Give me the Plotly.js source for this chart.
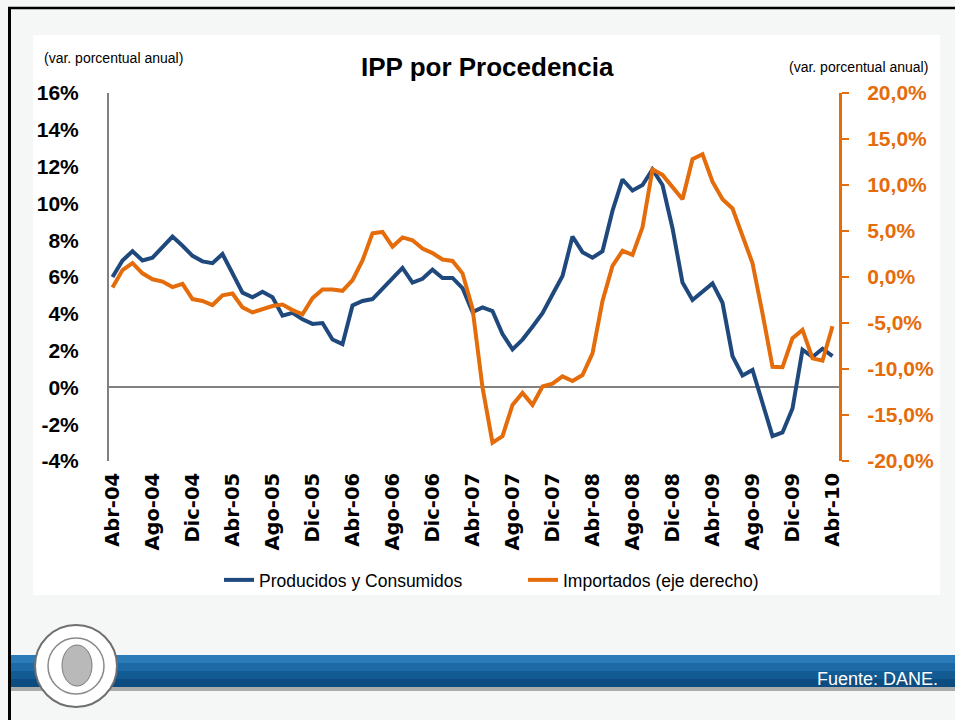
<!DOCTYPE html>
<html>
<head>
<meta charset="utf-8">
<script src="https://cdn.plot.ly/plotly-3.0.1.min.js"></script>
<style>html,body{margin:0;padding:0;background:#f5f6f6;}#chart{width:955px;height:720px;}</style>
</head>
<body>
<div id="chart"></div>
<script>
// ---- data ----
const months = ["Abr-04","May-04","Jun-04","Jul-04","Ago-04","Sep-04","Oct-04","Nov-04","Dic-04",
"Ene-05","Feb-05","Mar-05","Abr-05","May-05","Jun-05","Jul-05","Ago-05","Sep-05","Oct-05","Nov-05","Dic-05",
"Ene-06","Feb-06","Mar-06","Abr-06","May-06","Jun-06","Jul-06","Ago-06","Sep-06","Oct-06","Nov-06","Dic-06",
"Ene-07","Feb-07","Mar-07","Abr-07","May-07","Jun-07","Jul-07","Ago-07","Sep-07","Oct-07","Nov-07","Dic-07",
"Ene-08","Feb-08","Mar-08","Abr-08","May-08","Jun-08","Jul-08","Ago-08","Sep-08","Oct-08","Nov-08","Dic-08",
"Ene-09","Feb-09","Mar-09","Abr-09","May-09","Jun-09","Jul-09","Ago-09","Sep-09","Oct-09","Nov-09","Dic-09",
"Ene-10","Feb-10","Mar-10","Abr-10"];

const producidos = [6.0,6.9,7.4,6.9,7.05,7.6,8.2,7.7,7.15,
6.85,6.75,7.25,6.2,5.15,4.9,5.2,4.9,3.9,4.05,3.7,3.45,
3.5,2.6,2.35,4.45,4.7,4.8,5.35,5.9,6.5,5.7,5.9,6.4,
5.95,5.95,5.4,4.1,4.35,4.15,2.9,2.07,2.6,3.3,4.03,5.05,
6.05,8.2,7.35,7.05,7.4,9.6,11.3,10.7,11.0,11.85,11.0,8.65,
5.7,4.75,5.2,5.65,4.6,1.7,0.65,0.95,-0.85,-2.65,-2.45,-1.15,
2.05,1.65,2.1,1.7];

const importados = [-1.15,0.75,1.5,0.4,-0.25,-0.5,-1.1,-0.75,-2.4,
-2.6,-3.05,-2.0,-1.8,-3.3,-3.85,-3.5,-3.15,-3.0,-3.6,-4.05,-2.3,
-1.35,-1.35,-1.5,-0.35,1.8,4.75,4.9,3.3,4.3,4.0,3.1,2.6,
1.9,1.75,0.4,-3.4,-12.0,-18.0,-17.3,-13.9,-12.6,-13.9,-11.9,-11.6,
-10.8,-11.3,-10.65,-8.3,-2.6,1.2,2.85,2.4,5.4,11.7,11.1,9.8,
8.45,12.8,13.35,10.35,8.45,7.45,4.55,1.5,-3.95,-9.75,-9.8,-6.65,
-5.75,-8.85,-9.1,-5.35];

const xTicks = ["Abr-04","Ago-04","Dic-04","Abr-05","Ago-05","Dic-05","Abr-06","Ago-06","Dic-06",
"Abr-07","Ago-07","Dic-07","Abr-08","Ago-08","Dic-08","Abr-09","Ago-09","Dic-09","Abr-10"];
const leftTickVals = [-4,-2,0,2,4,6,8,10,12,14,16];
const leftTickText = ["-4%","-2%","0%","2%","4%","6%","8%","10%","12%","14%","16%"];
const rightTickVals = [-20,-15,-10,-5,0,5,10,15,20];
const rightTickText = ["-20,0%","-15,0%","-10,0%","-5,0%","0,0%","5,0%","10,0%","15,0%","20,0%"];

const seriesNames = ["Producidos y Consumidos","Importados (eje derecho)"];
const titleText = "IPP por Procedencia";
const unitText = "(var. porcentual anual)";
const sourceText = "Fuente: DANE.";

// ---- geometry helpers (pixel -> paper) ----
const L=109, R=839, T=93, B=461;
const fx = px => (px-L)/(R-L);
const fy = py => (B-py)/(B-T);

const FONT = "Liberation Sans, Arial, sans-serif";
const BLUE = "#1f497d", ORANGE = "#e46c0a";

const traces = [
  {x: months, y: producidos, name: seriesNames[0], type: "scatter", mode: "lines",
   line: {color: BLUE, width: 4}, yaxis: "y"},
  {x: months, y: importados, name: seriesNames[1], type: "scatter", mode: "lines",
   line: {color: ORANGE, width: 4}, yaxis: "y2"}
];

const bandCols = ["#2b7bb8","#1d6aa6","#135b93","#0c4c80"];
const shapes = [
  {type:"rect", xref:"paper", yref:"paper", x0:fx(33), x1:fx(940), y0:fy(595), y1:fy(35),
   fillcolor:"#ffffff", line:{width:0}, layer:"below"}
];
bandCols.forEach((c,i)=>{
  shapes.push({type:"rect", xref:"paper", yref:"paper", x0:fx(10), x1:fx(960),
    y0:fy(655+8*(i+1)), y1:fy(655+8*i), fillcolor:c, line:{width:0}, layer:"below"});
});
shapes.push({type:"rect", xref:"paper", yref:"paper", x0:fx(10), x1:fx(960), y0:fy(691), y1:fy(687),
  fillcolor:"#a9abad", line:{width:0}, layer:"below"});
shapes.push({type:"line", xref:"paper", yref:"paper", x0:fx(9.5), x1:fx(9.5), y0:fy(8), y1:fy(725),
  line:{color:"#000000", width:3}, layer:"above"});
shapes.push({type:"line", xref:"paper", yref:"paper", x0:fx(8), x1:fx(960), y0:fy(8), y1:fy(8),
  line:{color:"#000000", width:2.5}, layer:"above"});
shapes.push({type:"circle", xref:"paper", yref:"paper", x0:fx(35), x1:fx(117), y0:fy(707), y1:fy(625),
  fillcolor:"#ffffff", line:{color:"#6f6f6f", width:2}, layer:"above"});
shapes.push({type:"circle", xref:"paper", yref:"paper", x0:fx(48), x1:fx(104), y0:fy(694), y1:fy(638),
  fillcolor:"#ffffff", line:{color:"#8a8a8a", width:1.5}, layer:"above"});
shapes.push({type:"circle", xref:"paper", yref:"paper", x0:fx(62), x1:fx(92), y0:fy(686), y1:fy(645),
  fillcolor:"#b9b9b9", line:{color:"#7a7a7a", width:1}, layer:"above"});

const layout = {
  width: 955, height: 720,
  margin: {l: L, r: 955-R, t: T, b: 720-B, pad: 0},
  paper_bgcolor: "#f5f6f6",
  plot_bgcolor: "rgba(0,0,0,0)",
  showlegend: true,
  legend: {orientation: "h", x: fx(219), xanchor: "left", y: fy(580), yanchor: "middle",
    font: {family: FONT, size: 17.5, color: "#000000"}, bgcolor: "rgba(0,0,0,0)",
    entrywidth: 259, entrywidthmode: "pixels"},
  xaxis: {type: "category", range: [-0.35, 72.65], showgrid: false, zeroline: false,
    showline: false, ticks: "", tickmode: "array", tickvals: xTicks, ticktext: xTicks,
    tickangle: -90, ticklabelstandoff: 7,
    tickfont: {family: "DejaVu Sans, sans-serif", size: 19.5, color: "#000000", weight: "bold"}},
  yaxis: {range: [-4, 16], tickmode: "array", tickvals: leftTickVals, ticktext: leftTickText,
    showgrid: false, zeroline: true, zerolinecolor: "#808080", zerolinewidth: 2,
    showline: true, linecolor: "#808080", linewidth: 2, ticks: "", ticklabelstandoff: 24,
    tickfont: {family: FONT, size: 21, color: "#000000", weight: "bold"}},
  yaxis2: {range: [-20, 20], overlaying: "y", side: "right", tickmode: "array",
    tickvals: rightTickVals, ticktext: rightTickText, showgrid: false, zeroline: false,
    showline: true, linecolor: ORANGE, linewidth: 3, ticks: "outside", ticklen: 7,
    tickwidth: 2.5, tickcolor: ORANGE, ticklabelstandoff: 14,
    tickfont: {family: FONT, size: 21, color: ORANGE, weight: "bold"}},
  shapes: shapes,
  annotations: [
    {text: titleText, xref: "paper", yref: "paper", x: fx(487), y: fy(67), xanchor: "center",
     yanchor: "middle", showarrow: false, font: {family: FONT, size: 26, color: "#000000", weight: "bold"}},
    {text: unitText, xref: "paper", yref: "paper", x: fx(42), y: fy(58), xanchor: "left",
     yanchor: "middle", showarrow: false, font: {family: FONT, size: 14, color: "#000000"}},
    {text: unitText, xref: "paper", yref: "paper", x: fx(930), y: fy(67), xanchor: "right",
     yanchor: "middle", showarrow: false, font: {family: FONT, size: 14, color: "#000000"}},
    {text: sourceText, xref: "paper", yref: "paper", x: fx(940), y: fy(679), xanchor: "right",
     yanchor: "middle", showarrow: false, font: {family: FONT, size: 18, color: "#ffffff"}}
  ]
};

Plotly.newPlot("chart", traces, layout, {displayModeBar: false, staticPlot: true});
</script>
</body>
</html>
